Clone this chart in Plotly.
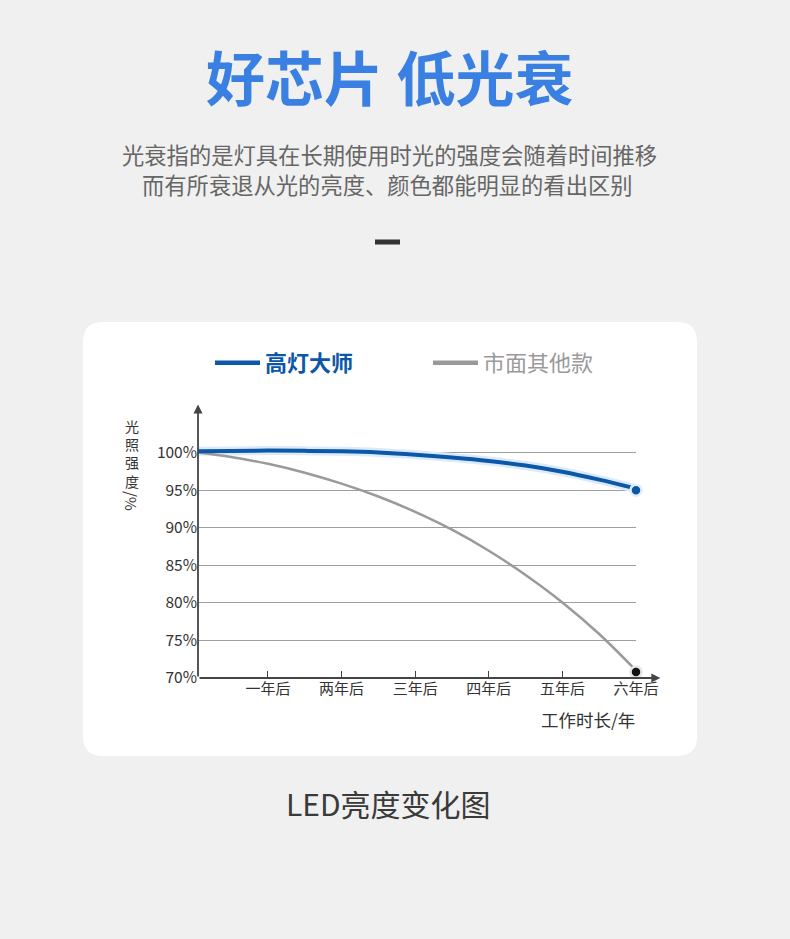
import plotly.graph_objects as go

W, H = 790, 939
FONT = "Noto Sans CJK SC"

# data
years = [0.05, 0.5, 1, 1.5, 2, 2.5, 3, 3.5, 4, 4.5, 5, 5.5, 6]
gaodeng = [100.18, 100.22, 100.26, 100.23, 100.16, 100.0, 99.72, 99.34, 98.88, 98.28, 97.45, 96.4, 95.2]
others = [100.0, 99.41, 98.5, 97.32, 95.87, 94.15, 92.11, 89.74, 86.94, 83.71, 80.05, 75.85, 71.0]
end_gaodeng = 95.0
end_others = 70.8

tick_years = [1, 2, 3, 4, 5, 6]
tick_names = ["一年后", "两年后", "三年后", "四年后", "五年后", "六年后"]
y_ticks = [70, 75, 80, 85, 90, 95, 100, 105]
y_labels = ["70%", "75%", "80%", "85%", "90%", "95%", "100%", ""]
y_title_chars = ["光", "照", "强", "度"]

BLUE = "#0b57a8"
GRAY = "#9a9a9a"


def px_x(v):
    return v / W


def px_y(v):
    return 1 - v / H


fig = go.Figure()

# glow under the blue line
fig.add_trace(go.Scatter(x=years, y=gaodeng, mode="lines", line=dict(color="#dbeafa", width=9, shape="spline"),
                         showlegend=False, hoverinfo="skip"))
fig.add_trace(go.Scatter(x=years, y=others, mode="lines", line=dict(color=GRAY, width=2.5, shape="spline"),
                         showlegend=False))
fig.add_trace(go.Scatter(x=years, y=gaodeng, mode="lines", line=dict(color=BLUE, width=4, shape="spline"),
                         showlegend=False))
fig.add_trace(go.Scatter(x=[6], y=[end_gaodeng], mode="markers",
                         marker=dict(color=BLUE, size=11, line=dict(color="#e4eef9", width=2.5)),
                         showlegend=False, cliponaxis=False))
fig.add_trace(go.Scatter(x=[6], y=[end_others], mode="markers",
                         marker=dict(color="#111111", size=11, line=dict(color="#e6e6e6", width=2.5)),
                         showlegend=False, cliponaxis=False))

# legend entries
fig.add_trace(go.Scatter(x=[None], y=[None], mode="lines", line=dict(color=BLUE, width=4.5),
                         name="<b><span style='color:%s'>高灯大师</span></b>" % BLUE))
fig.add_trace(go.Scatter(x=[None], y=[None], mode="lines", line=dict(color=GRAY, width=4.5),
                         name="<span style='color:%s'>市面其他款</span>" % GRAY))

# white rounded card
x0, x1, y0, y1, r = 83, 697, 322, 756, 20
card = ("M {a},{b} L {c},{b} Q {d},{b} {d},{e} L {d},{f} Q {d},{g} {c},{g} "
        "L {a},{g} Q {h},{g} {h},{f} L {h},{e} Q {h},{b} {a},{b} Z").format(
    a=px_x(x0 + r), c=px_x(x1 - r), d=px_x(x1), h=px_x(x0),
    b=px_y(y0), e=px_y(y0 + r), f=px_y(y1 - r), g=px_y(y1))

shapes = [
    dict(type="path", xref="paper", yref="paper", path=card, fillcolor="white", line=dict(width=0), layer="below"),
    dict(type="rect", xref="paper", yref="paper", x0=px_x(375), x1=px_x(400), y0=px_y(239.5), y1=px_y(244.5),
         fillcolor="#333333", line=dict(width=0)),
]


def label(text, x, y, size, color, **kw):
    return dict(text=text, x=px_x(x), y=px_y(y), xref="paper", yref="paper", showarrow=False,
                xanchor=kw.pop("xanchor", "center"), yanchor=kw.pop("yanchor", "middle"),
                font=dict(family=FONT, size=size, color=color), **kw)


annotations = [
    label("<b>好芯片 低光衰</b>", 389, 75, 59, "#3a80e2"),
    label("光衰指的是灯具在长期使用时光的强度会随着时间推移", 389, 154, 22.3, "#666666"),
    label("而有所衰退从光的亮度、颜色都能明显的看出区别", 387, 184, 22.3, "#666666"),
    label("LED亮度变化图", 388, 803, 30, "#3a3a3a"),
    # y title: upright characters stacked, then the rotated "/%"
    label("<br>".join(y_title_chars), 132, 414, 14, "#333333", yanchor="top", align="center"),
    label("/%", 132, 501, 15, "#333333", textangle=90),
    label("工作时长/年", 588, 719, 17.5, "#333333"),
    # axis arrows
    dict(x=6.33, y=70, ax=0.05, ay=70, xref="x", yref="y", axref="x", ayref="y", text="", showarrow=True,
         arrowhead=2, arrowsize=1, arrowwidth=1.8, arrowcolor="#444444"),
    dict(x=0.05, y=106.4, ax=0.05, ay=70, xref="x", yref="y", axref="x", ayref="y", text="", showarrow=True,
         arrowhead=2, arrowsize=1, arrowwidth=1.8, arrowcolor="#444444"),
]

fig.update_layout(
    width=W, height=H, autosize=False,
    margin=dict(l=0, r=0, t=0, b=0, pad=0, autoexpand=False),
    paper_bgcolor="#f0f0f0",
    plot_bgcolor="rgba(0,0,0,0)",
    font=dict(family=FONT, color="#333333"),
    shapes=shapes,
    annotations=annotations,
    showlegend=True,
    legend=dict(orientation="h", x=px_x(210), y=px_y(363), xanchor="left", yanchor="middle",
                font=dict(family=FONT, size=22), bgcolor="rgba(0,0,0,0)", entrywidth=158,
                itemwidth=45),
)

fig.update_xaxes(
    domain=[px_x(198), px_x(636)], range=[0.05, 6],
    tickvals=tick_years, ticktext=tick_names,
    ticks="inside", ticklen=7, tickcolor="#444444", tickwidth=1,
    showgrid=False, zeroline=False, showline=False, automargin=False,
    tickfont=dict(family=FONT, size=15, color="#333333"),
)
fig.update_yaxes(
    domain=[px_y(678), px_y(415)], range=[70, 105],
    tickvals=y_ticks, ticktext=y_labels,
    showgrid=True, gridcolor="#9e9e9e", gridwidth=1,
    zeroline=False, showline=False, ticks="", automargin=False,
    tickfont=dict(family=FONT, size=15.5, color="#333333"),
)

fig.write_html("out.html", config={"displayModeBar": False},
               post_script="document.body.style.margin='0px';document.body.style.overflow='hidden';")
